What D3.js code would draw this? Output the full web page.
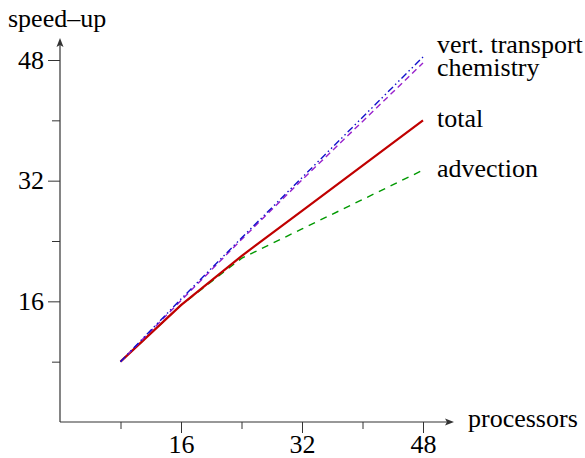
<!DOCTYPE html>
<html><head><meta charset="utf-8">
<script src="https://cdn.jsdelivr.net/npm/d3@7"></script>
<style>
html,body{margin:0;padding:0;background:#fff;}
svg{display:block;}
</style></head>
<body><svg id="chart" width="585" height="458"></svg>
<script>
const processors = [8, 16, 24, 32, 48];
const vertTransport = [8, 16.3, 24.4, 32.4, 48.4];
const chemistry = [8, 16.1, 24.2, 32.1, 47.6];
const total = [8, 15.5, 22.0, 28.0, 40.0];
const advection = [8, 15.5, 21.7, 25.6, 33.4];
const xTicks = [8, 16, 24, 32, 40, 48];
const yTicks = [8, 16, 24, 32, 40, 48];
const labeledTicks = [16, 32, 48];
const seriesNames = ["vert. transport", "chemistry", "total", "advection"];

const FONT = "Liberation Serif";
const svg = d3.select("#chart");
const x = d3.scaleLinear().domain([0, 48]).range([60, 423]);
const y = d3.scaleLinear().domain([0, 48]).range([422, 60]);
const axisColor = "#333";
const fs = 26;

// X axis
const gx = svg.append("g").attr("transform", `translate(0,${y(0)})`)
  .call(d3.axisBottom(x).tickValues(xTicks)
    .tickFormat(d => labeledTicks.includes(d) ? d : "")
    .tickSize(11).tickPadding(1.5));
gx.attr("font-family", FONT).attr("font-size", fs);
gx.select(".domain").remove();
gx.selectAll(".tick line").attr("stroke", axisColor)
  .attr("y2", d => labeledTicks.includes(d) ? 11 : 7);
gx.selectAll(".tick text").attr("fill", "#000");
svg.append("line").attr("x1", x(0)).attr("x2", 447).attr("y1", y(0)).attr("y2", y(0))
  .attr("stroke", axisColor).attr("stroke-width", 1.2);
svg.append("path").attr("d", `M454,${y(0)} L445,${y(0)-3.5} L447,${y(0)} L445,${y(0)+3.5} Z`).attr("fill", axisColor);

// Y axis
const gy = svg.append("g").attr("transform", `translate(${x(0)},0)`)
  .call(d3.axisLeft(y).tickValues(yTicks)
    .tickFormat(d => labeledTicks.includes(d) ? d : "")
    .tickSize(12).tickPadding(4));
gy.attr("font-family", FONT).attr("font-size", fs);
gy.select(".domain").remove();
gy.selectAll(".tick line").attr("stroke", axisColor)
  .attr("x2", d => labeledTicks.includes(d) ? -12 : -8);
gy.selectAll(".tick text").attr("fill", "#000");
svg.append("line").attr("x1", x(0)).attr("x2", x(0)).attr("y1", y(0)).attr("y2", 45)
  .attr("stroke", axisColor).attr("stroke-width", 1.2);
svg.append("path").attr("d", `M${x(0)},38 L${x(0)-3.5},47 L${x(0)},45 L${x(0)+3.5},47 Z`).attr("fill", axisColor);

// Axis titles
svg.append("text").attr("x", 8).attr("y", 27).attr("font-size", fs).attr("font-family", FONT).text("speed\u2013up");
svg.append("text").attr("x", 468).attr("y", 427).attr("font-size", fs).attr("font-family", FONT).text("processors");

// Lines
const line = vals => d3.line().x((d, i) => x(processors[i])).y(d => y(d))(vals);
const series = [
  {vals: advection, color: "#009900", width: 1.4, dash: "7,6"},
  {vals: total, color: "#c00000", width: 2.2, dash: null},
  {vals: chemistry, color: "#9922cc", width: 1.4, dash: "6,4"},
  {vals: vertTransport, color: "#1111cc", width: 1.4, dash: "7,3,1.5,3,1.5,3"}
];
series.forEach(s => {
  const p = svg.append("path").attr("d", line(s.vals)).attr("fill", "none")
    .attr("stroke", s.color).attr("stroke-width", s.width);
  if (s.dash) p.attr("stroke-dasharray", s.dash);
});

// Labels
const labelY = [53, 76, 127, 177];
seriesNames.forEach((n, i) => {
  svg.append("text").attr("x", 437).attr("y", labelY[i]).attr("font-size", fs).attr("font-family", FONT).text(n);
});
</script></body></html>
